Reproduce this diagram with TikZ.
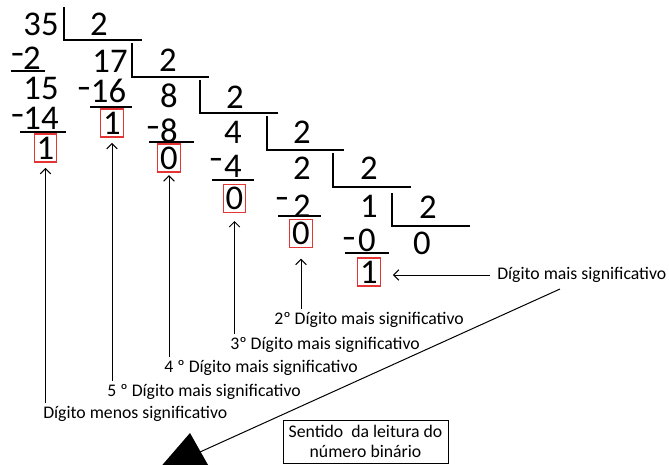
\documentclass[tikz,border=0pt]{standalone}
\usepackage{fontspec}
\setmainfont{Carlito}
\usetikzlibrary{arrows.meta}
\definecolor{redbox}{RGB}{228,52,52}
\begin{document}
\begin{tikzpicture}[x=0.75pt,y=-0.75pt,
  dg/.style={font=\fontsize{26}{26}\selectfont, inner sep=0pt},
  mn/.style={font=\fontsize{26}{26}\selectfont, inner sep=0pt, anchor=base},
  bx/.style={dg, draw=redbox, line width=0.8pt, minimum width=17pt, minimum height=21pt},
  lbl/.style={font=\fontsize{13.3}{13.3}\selectfont, inner sep=0pt, anchor=west},
  brk/.style={line width=1.1pt},
  ul/.style={line width=1.1pt},
  arr/.style={line width=0.75pt, -{Straight Barb[length=4pt,width=8pt]}, shorten <=2pt}]
\useasboundingbox (0,0) rectangle (669,465);
\clip (0,0) rectangle (669,465);

% column 1
\node[dg] (n35) at (41,24) {35};
\node[mn] (m1) at (17.5,64) {\scalebox{1.25}[1]{-}};
\node[dg] (n2a) at (32,58) {2};
\node[dg] (n15) at (41,88) {15};
\node[mn] (m2) at (17.5,125) {\scalebox{1.25}[1]{-}};
\node[dg] (n14) at (41,118) {14};
\node[bx] (b1) at (45.5,148) {1};
% column 2
\node[dg] (d1) at (99,24) {2};
\node[dg] (n17) at (110,61) {17};
\node[mn] (m3) at (84,98) {\scalebox{1.25}[1]{-}};
\node[dg] (n16) at (108.5,91) {16};
\node[bx] (b2) at (112,123) {1};
% column 3
\node[dg] (d2) at (168,60) {2};
\node[dg] (n8) at (169,96) {8};
\node[mn] (m4) at (153,137) {\scalebox{1.25}[1]{-}};
\node[dg] (n8b) at (169,131) {8};
\node[bx] (b3) at (169,158) {0};
% column 4
\node[dg] (d3) at (235,97) {2};
\node[dg] (n4) at (233,132) {4};
\node[mn] (m5) at (216,169) {\scalebox{1.25}[1]{-}};
\node[dg] (n4b) at (233,166) {4};
\node[bx] (b4) at (234.5,198.5) {0};
% column 5
\node[dg] (d4) at (302,132) {2};
\node[dg] (n2b) at (302,168) {2};
\node[mn] (m6) at (282,208) {\scalebox{1.25}[1]{-}};
\node[dg] (n2c) at (302,206) {2};
\node[bx] (b5) at (301,233.5) {0};
% column 6
\node[dg] (d5) at (369,168) {2};
\node[dg] (n1) at (369,206) {1};
\node[mn] (m7) at (349,248) {\scalebox{1.25}[1]{-}};
\node[dg] (n0) at (367,240) {0};
\node[bx] (b6) at (369,272) {1};
% column 7
\node[dg] (d6) at (428,207) {2};
\node[dg] (q0) at (422,243) {0};

% brackets
\draw[brk] (64,7) -- (64,40) -- (142,40);
\draw[brk] (132,43) -- (132,77) -- (209,77);
\draw[brk] (200,80) -- (200,113) -- (278,113);
\draw[brk] (267,116) -- (267,150) -- (344,150);
\draw[brk] (333,153) -- (333,187) -- (411,187);
\draw[brk] (392,193) -- (392,226) -- (470,226);

% underlines
\draw[ul] (11,71) -- (45,71);
\draw[ul] (20,132) -- (66,132);
\draw[ul] (90,107) -- (132,107);
\draw[ul] (149,142) -- (194,142);
\draw[ul] (212,180) -- (254,180);
\draw[ul] (278,216) -- (321,216);
\draw[ul] (345,253) -- (389,253);

% labels
\node[lbl] (L1) at (43,414) {Dígito menos significativo};
\node[lbl] (L2) at (107,392) {5 º Dígito mais significativo};
\node[lbl] (L3) at (164,368) {4 º Dígito mais significativo};
\node[lbl] (L4) at (230,345) {3º Dígito mais significativo};
\node[lbl] (L5) at (274,320) {2º Dígito mais significativo};
\node[lbl] (L6) at (497,275) {Dígito mais significativo};

% arrows
\draw[arr, shorten >=4pt] (b1.south |- L1.north) -- (b1.south);
\draw[arr, shorten >=4pt] (b2.south |- L2.north) -- (b2.south);
\draw[arr, shorten >=2pt] (b3.south |- L3.north) -- (b3.south);
\draw[arr, shorten >=6pt] (b4.south |- L4.north) -- (b4.south);
\draw[arr, shorten >=8pt] (b5.south |- L5.north) -- (b5.south);
\draw[arr, shorten <=5pt, shorten >=9pt] (L6.west) -- (L6.west -| b6.east);

% reading direction
\node[draw, line width=0.75pt, minimum width=123.75pt, minimum height=32.25pt, align=center,
  font=\fontsize{13.3}{15}\selectfont, inner sep=0pt] (sb) at (365.5,441.5) {Sentido\ \ da leitura do\\número binário};
\coordinate (ds) at (560,289);
\coordinate (de) at (200,452);
\draw[line width=0.75pt] (ds) -- (de);
\fill (190,433) -- (212,472) -- (158,470) -- cycle;
\end{tikzpicture}
\end{document}
